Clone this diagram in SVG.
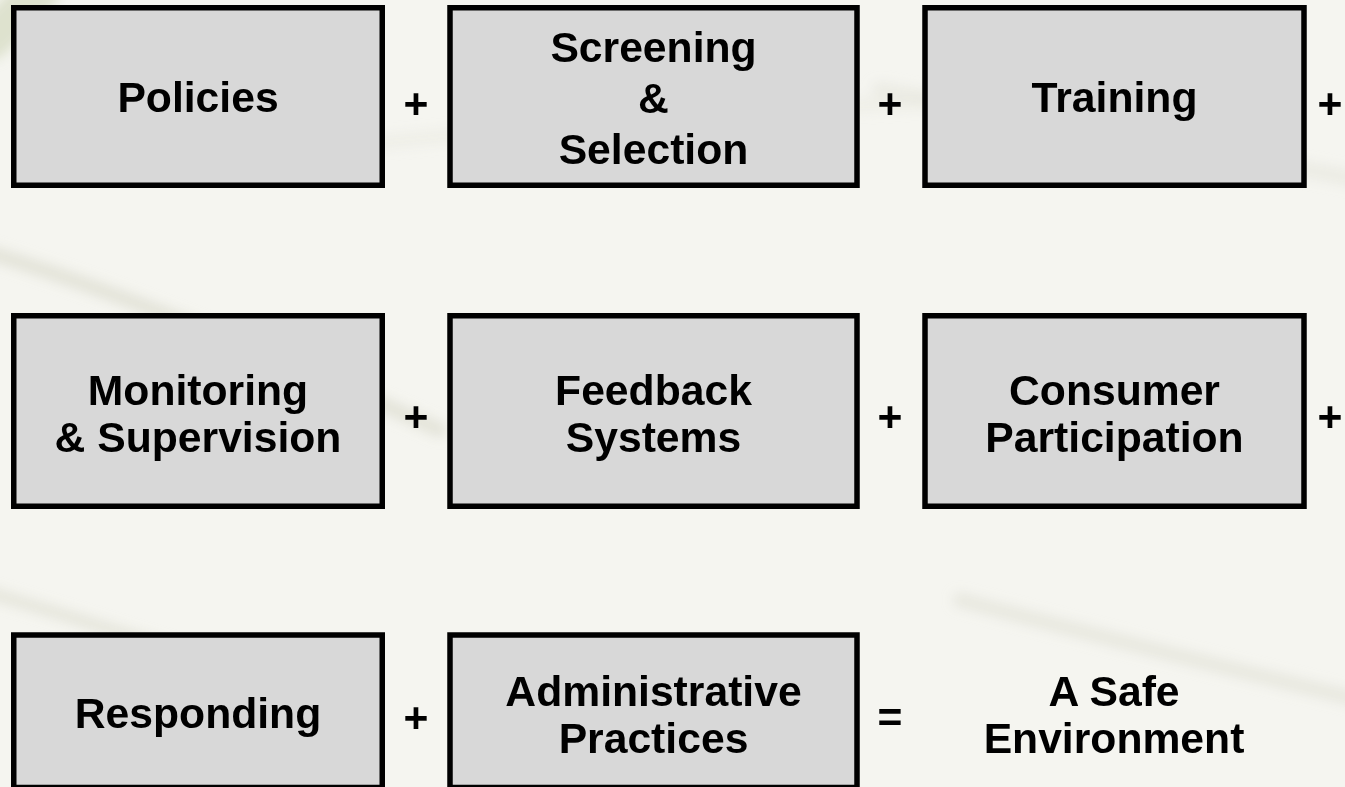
<svg xmlns="http://www.w3.org/2000/svg" width="1345" height="787" viewBox="0 0 1345 787">
  <defs>
    <filter id="blur" x="-20%" y="-20%" width="140%" height="140%">
      <feGaussianBlur stdDeviation="6"/>
    </filter>
    <style>
      .box { fill: #d8d8d8; stroke: #000000; stroke-width: 5.5; }
      .lbl { font-family: "Liberation Sans", Arial, sans-serif; font-weight: bold; font-size: 42.67px; fill: #000000; text-anchor: middle; }
      .op { font-family: "Liberation Sans", Arial, sans-serif; font-weight: bold; font-size: 42.67px; fill: #000000; text-anchor: middle; }
    </style>
  </defs>

  <!-- background -->
  <rect x="0" y="0" width="1345" height="787" fill="#f5f5f0"/>
  <g id="background-streaks" filter="url(#blur)" fill="none" stroke-linecap="round">
    <path d="M -10 40 Q 20 10 40 -10" stroke="#cfd6b8" stroke-width="40" opacity="0.6"/>
    <path d="M -20 250 Q 150 300 440 430" stroke="#dcdccf" stroke-width="14" opacity="0.7"/>
    <path d="M -20 590 Q 150 640 330 700" stroke="#dcdccf" stroke-width="12" opacity="0.6"/>
    <path d="M 960 600 Q 1150 650 1360 700" stroke="#e0e0d4" stroke-width="14" opacity="0.6"/>
    <path d="M 880 90 Q 1100 130 1360 180" stroke="#e4e4d9" stroke-width="16" opacity="0.5"/>
    <path d="M 300 150 Q 600 120 950 100" stroke="#e6e6dc" stroke-width="14" opacity="0.4"/>
  </g>

  <g id="node-policies">
    <rect class="box" x="13.75" y="7.75" width="368.5" height="177.5"/>
    <text class="lbl" x="198" y="112">Policies</text>
  </g>
  <g id="node-screening">
    <rect class="box" x="450" y="7.75" width="407" height="177.5"/>
    <text class="lbl" x="653.5" y="62">Screening</text>
    <text class="lbl" x="653.5" y="113">&amp;</text>
    <text class="lbl" x="653.5" y="164">Selection</text>
  </g>
  <g id="node-training">
    <rect class="box" x="925" y="7.75" width="379" height="177.5"/>
    <text class="lbl" x="1114.5" y="112">Training</text>
  </g>

  <g id="node-monitoring">
    <rect class="box" x="13.75" y="315.75" width="368.5" height="190.5"/>
    <text class="lbl" x="198" y="405">Monitoring</text>
    <text class="lbl" x="198" y="452">&amp; Supervision</text>
  </g>
  <g id="node-feedback">
    <rect class="box" x="450" y="315.75" width="407" height="190.5"/>
    <text class="lbl" x="653.5" y="405">Feedback</text>
    <text class="lbl" x="653.5" y="452">Systems</text>
  </g>
  <g id="node-consumer">
    <rect class="box" x="925" y="315.75" width="379" height="190.5"/>
    <text class="lbl" x="1114.5" y="405">Consumer</text>
    <text class="lbl" x="1114.5" y="452">Participation</text>
  </g>

  <g id="node-responding">
    <rect class="box" x="13.75" y="635" width="368.5" height="152.5"/>
    <text class="lbl" x="198" y="728">Responding</text>
  </g>
  <g id="node-administrative">
    <rect class="box" x="450" y="635" width="407" height="152.5"/>
    <text class="lbl" x="653.5" y="706">Administrative</text>
    <text class="lbl" x="653.5" y="753">Practices</text>
  </g>
  <g id="node-result">
    <text class="lbl" x="1114" y="706">A Safe</text>
    <text class="lbl" x="1114" y="753">Environment</text>
  </g>

  <g id="connectors">
    <text class="op" x="416" y="118">+</text>
    <text class="op" x="890" y="118">+</text>
    <text class="op" x="1330" y="118">+</text>
    <text class="op" x="416" y="431">+</text>
    <text class="op" x="890" y="431">+</text>
    <text class="op" x="1330" y="431">+</text>
    <text class="op" x="416" y="732">+</text>
    <text class="op" x="890" y="732">=</text>
  </g>
</svg>
